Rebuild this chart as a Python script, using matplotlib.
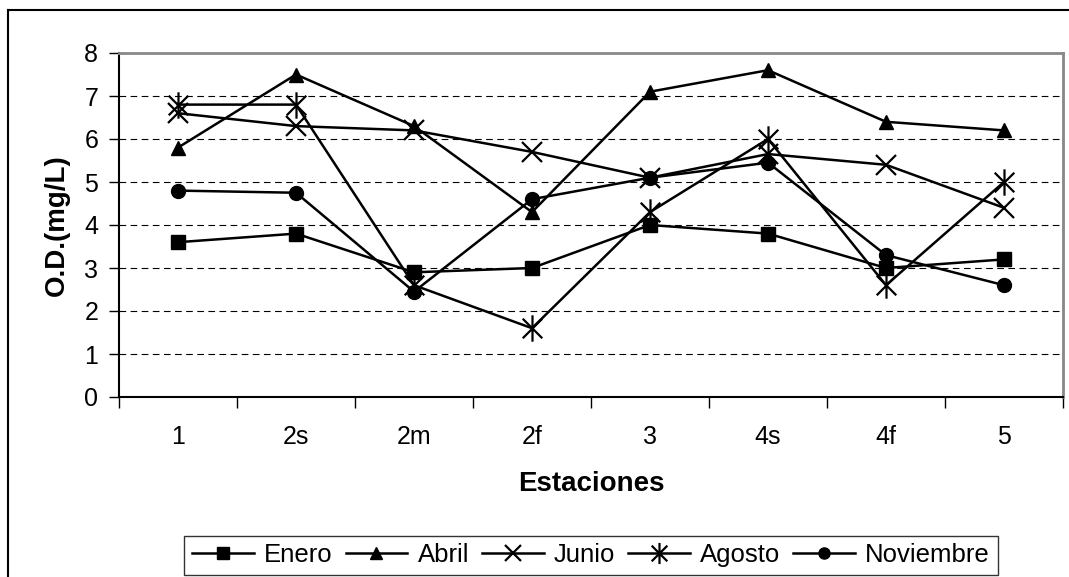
import matplotlib
matplotlib.use("Agg")
import matplotlib.pyplot as plt
from matplotlib.lines import Line2D
from matplotlib.path import Path

plt.rcParams['font.family'] = ['Liberation Sans', 'DejaVu Sans']

estaciones = ["1", "2s", "2m", "2f", "3", "4s", "4f", "5"]
enero = [3.6, 3.8, 2.9, 3.0, 4.0, 3.8, 3.0, 3.2]
abril = [5.8, 7.5, 6.3, 4.3, 7.1, 7.6, 6.4, 6.2]
junio = [6.6, 6.3, 6.2, 5.7, 5.1, 5.65, 5.4, 4.4]
agosto = [6.8, 6.8, 2.6, 1.6, 4.3, 6.0, 2.6, 5.0]
noviembre = [4.8, 4.75, 2.45, 4.6, 5.1, 5.45, 3.3, 2.6]
y_ticks = [0, 1, 2, 3, 4, 5, 6, 7, 8]

# asterisk marker: X plus vertical stroke
star = Path([(-1, -1), (1, 1), (-1, 1), (1, -1), (0, -1.35), (0, 1.35)],
            [Path.MOVETO, Path.LINETO, Path.MOVETO, Path.LINETO,
             Path.MOVETO, Path.LINETO])

W, H = 1069, 577
fig = plt.figure(figsize=(W / 100, H / 100), dpi=100)
ax = fig.add_axes([119 / W, 1 - 397 / H, (1063 - 119) / W, (397 - 53) / H])

x = list(range(len(estaciones)))
series = [
    ("Enero", enero, "s", 10, 1.0),
    ("Abril", abril, "^", 10, 1.0),
    ("Junio", junio, "x", 14, 1.6),
    ("Agosto", agosto, star, 19, 1.6),
    ("Noviembre", noviembre, "o", 10, 1.0),
]
handles = []
for name, vals, mk, ms, mew in series:
    ax.plot(x, vals, color="black", lw=1.8, marker=mk, markersize=ms,
            markeredgewidth=mew, markerfacecolor="black",
            markeredgecolor="black", label=name, zorder=3, clip_on=False)
    handles.append(Line2D([0], [0], color="black", lw=1.8, marker=mk,
                          markersize=ms * 0.8, markeredgewidth=mew,
                          markerfacecolor="black", markeredgecolor="black"))

ax.set_xlim(-0.5, len(estaciones) - 0.5)
ax.set_ylim(0, 8)
ax.set_yticks(y_ticks)
ax.set_yticklabels([str(v) for v in y_ticks], fontsize=18)
for yv in y_ticks[1:-1]:
    ax.axhline(yv, color="black", lw=0.8, ls=(0, (6, 4)), zorder=1)

ax.set_xticks(x)
ax.set_xticklabels(estaciones, fontsize=18)
ax.tick_params(axis="x", length=0, pad=20)
ax.set_xticks([i - 0.5 for i in range(len(estaciones) + 1)], minor=True)
ax.tick_params(axis="x", which="minor", length=8, width=1, direction="out", color="black")
ax.tick_params(axis="y", length=7, width=1, direction="out", pad=8)

for s in ["top", "right"]:
    ax.spines[s].set_color("#888888")
    ax.spines[s].set_linewidth(2)
for s in ["left", "bottom"]:
    ax.spines[s].set_color("black")
    ax.spines[s].set_linewidth(1.5)

ax.set_xlabel("Estaciones", fontsize=20, fontweight="bold", labelpad=16)
ax.set_ylabel("O.D.(mg/L)", fontsize=20, fontweight="bold", labelpad=10)

leg = fig.legend(handles, [s[0] for s in series], loc="lower center",
                 bbox_to_anchor=(591 / W, 1 - 575 / H), ncol=5, fontsize=18.5,
                 frameon=True, fancybox=False, edgecolor="black",
                 handlelength=2.4, handletextpad=0.4, columnspacing=0.5,
                 borderpad=0.3, borderaxespad=0)
leg.get_frame().set_linewidth(1.0)

# outer chart frame (left and top edges visible)
fig.add_artist(Line2D([8 / W, 8 / W], [0, 1 - 10 / H], color="black", lw=1.5,
                      transform=fig.transFigure))
fig.add_artist(Line2D([8 / W, 1], [1 - 10 / H, 1 - 10 / H], color="black", lw=1.5,
                      transform=fig.transFigure))

fig.savefig("out.png", dpi=100)
